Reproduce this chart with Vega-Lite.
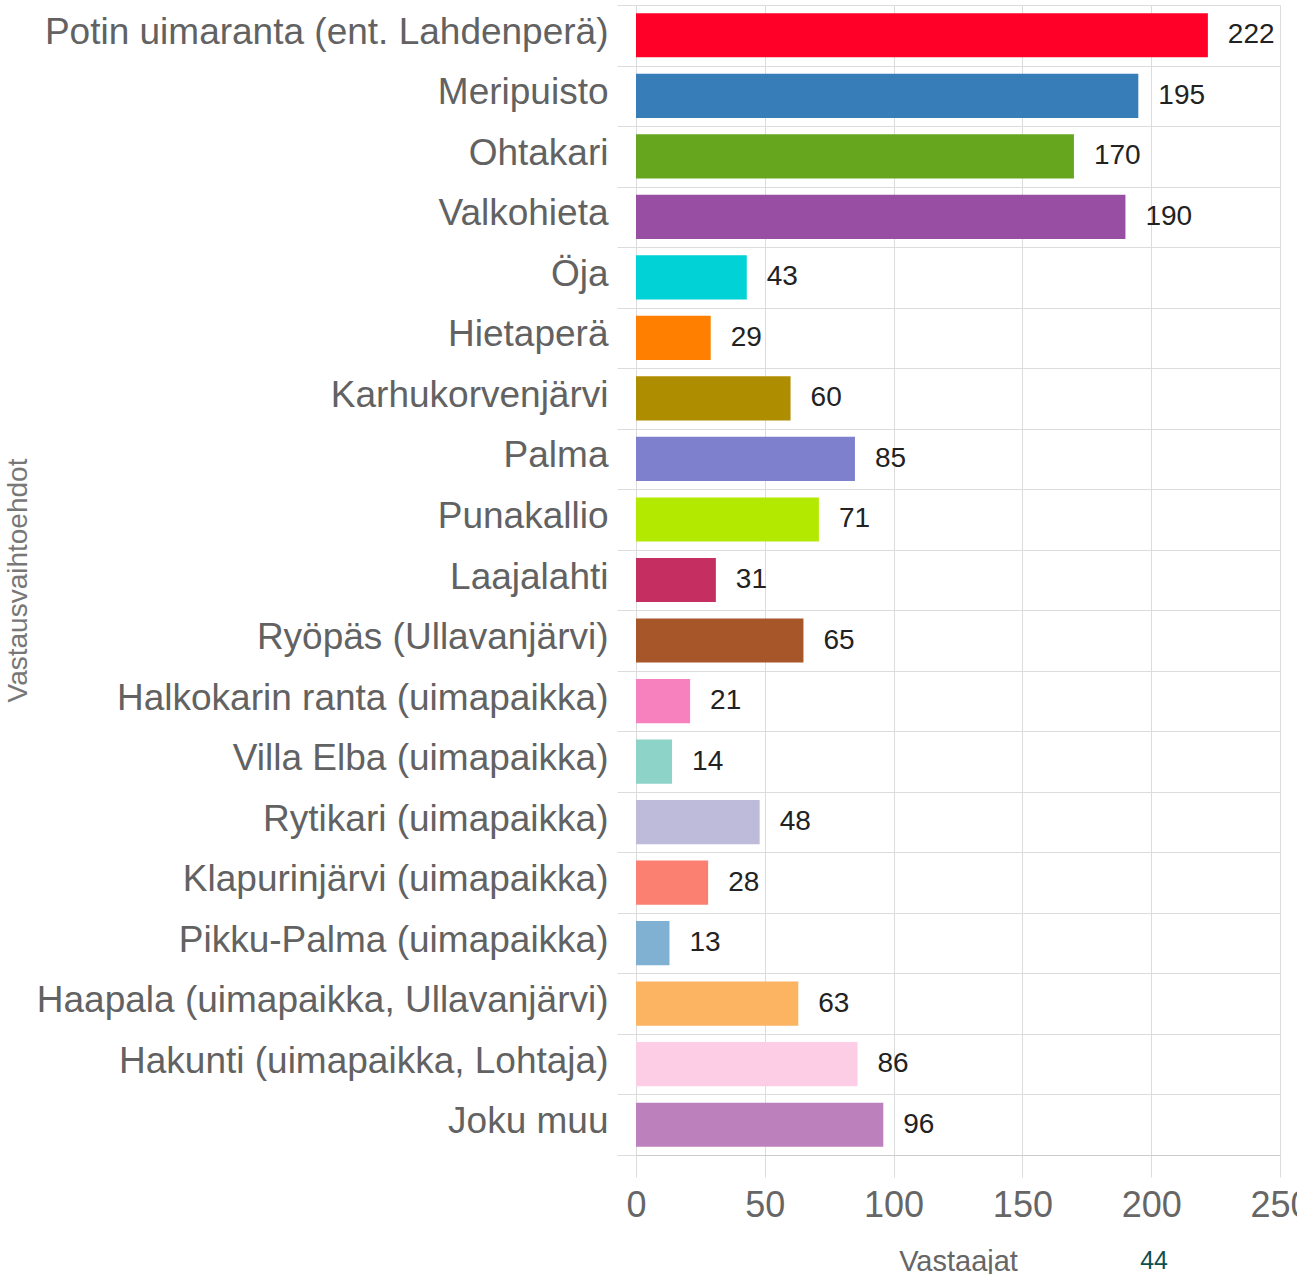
{
  "$schema": "https://vega.github.io/schema/vega-lite/v6.json",
  "autosize": {"type": "none"},
  "width": 644,
  "height": 1150,
  "padding": {"left": 636, "top": 5, "right": 17, "bottom": 119},
  "background": "white",
  "title": {"text": "44", "orient": "bottom", "anchor": "end", "frame": "group", "dx": -112, "offset": -27, "fontSize": 25, "fontWeight": "normal", "color": "#0d5050", "font": "Liberation Sans"},
  "data": {"values": [
    {"name": "Potin uimaranta (ent. Lahdenperä)", "value": 222},
    {"name": "Meripuisto", "value": 195},
    {"name": "Ohtakari", "value": 170},
    {"name": "Valkohieta", "value": 190},
    {"name": "Öja", "value": 43},
    {"name": "Hietaperä", "value": 29},
    {"name": "Karhukorvenjärvi", "value": 60},
    {"name": "Palma", "value": 85},
    {"name": "Punakallio", "value": 71},
    {"name": "Laajalahti", "value": 31},
    {"name": "Ryöpäs (Ullavanjärvi)", "value": 65},
    {"name": "Halkokarin ranta (uimapaikka)", "value": 21},
    {"name": "Villa Elba (uimapaikka)", "value": 14},
    {"name": "Rytikari (uimapaikka)", "value": 48},
    {"name": "Klapurinjärvi (uimapaikka)", "value": 28},
    {"name": "Pikku-Palma (uimapaikka)", "value": 13},
    {"name": "Haapala (uimapaikka, Ullavanjärvi)", "value": 63},
    {"name": "Hakunti (uimapaikka, Lohtaja)", "value": 86},
    {"name": "Joku muu", "value": 96}
  ]},
  "encoding": {
    "y": {
      "field": "name", "type": "nominal", "sort": null,
      "scale": {"paddingInner": 0, "paddingOuter": 0},
      "axis": {
        "title": "Vastausvaihtoehdot",
        "tickBand": "extent",
        "grid": true, "gridColor": "#dcdcdc",
        "ticks": true, "tickColor": "#dcdcdc", "tickSize": 19,
        "domain": false,
        "labelFont": "Liberation Sans", "labelFontSize": 37, "labelColor": "#626262",
        "labelPadding": 9, "labelLimit": 0, "labelOffset": -3,
        "titleFont": "Liberation Sans", "titleFontSize": 28, "titleColor": "#777777", "titleFontWeight": "normal",
        "titleX": -604, "titleY": 575
      }
    },
    "x": {
      "field": "value", "type": "quantitative",
      "scale": {"domain": [0, 250], "nice": false},
      "axis": {
        "values": [0, 50, 100, 150, 200, 250],
        "grid": true, "gridColor": "#dcdcdc",
        "tickColor": "#dcdcdc", "tickSize": 22,
        "domainColor": "#cccccc",
        "labelFont": "Liberation Sans", "labelFontSize": 36, "labelColor": "#666666",
        "labelPadding": 11, "labelFlush": false,
        "title": "Vastaajat",
        "titleFont": "Liberation Sans", "titleFontSize": 29, "titleColor": "#666666", "titleFontWeight": "normal",
        "titleBaseline": "alphabetic", "titleY": 115
      }
    }
  },
  "layer": [
    {
      "mark": {"type": "bar", "height": {"band": 0.73}},
      "encoding": {
        "color": {
          "field": "name", "type": "nominal", "legend": null,
          "scale": {
            "domain": ["Potin uimaranta (ent. Lahdenperä)", "Meripuisto", "Ohtakari", "Valkohieta", "Öja", "Hietaperä", "Karhukorvenjärvi", "Palma", "Punakallio", "Laajalahti", "Ryöpäs (Ullavanjärvi)", "Halkokarin ranta (uimapaikka)", "Villa Elba (uimapaikka)", "Rytikari (uimapaikka)", "Klapurinjärvi (uimapaikka)", "Pikku-Palma (uimapaikka)", "Haapala (uimapaikka, Ullavanjärvi)", "Hakunti (uimapaikka, Lohtaja)", "Joku muu"],
            "range": ["#ff0029", "#377eb8", "#66a61e", "#984ea3", "#00d2d5", "#ff7f00", "#af8d00", "#7f80cd", "#b3e900", "#c42e60", "#a65628", "#f781bf", "#8dd3c7", "#bebada", "#fb8072", "#80b1d3", "#fdb462", "#fccde5", "#bc80bd"]
          }
        }
      }
    },
    {
      "mark": {"type": "text", "align": "left", "baseline": "middle", "dx": 20, "fontSize": 28, "font": "Liberation Sans", "color": "#222222"},
      "encoding": {"text": {"field": "value", "type": "quantitative"}}
    }
  ],
  "config": {"view": {"stroke": null}}
}
